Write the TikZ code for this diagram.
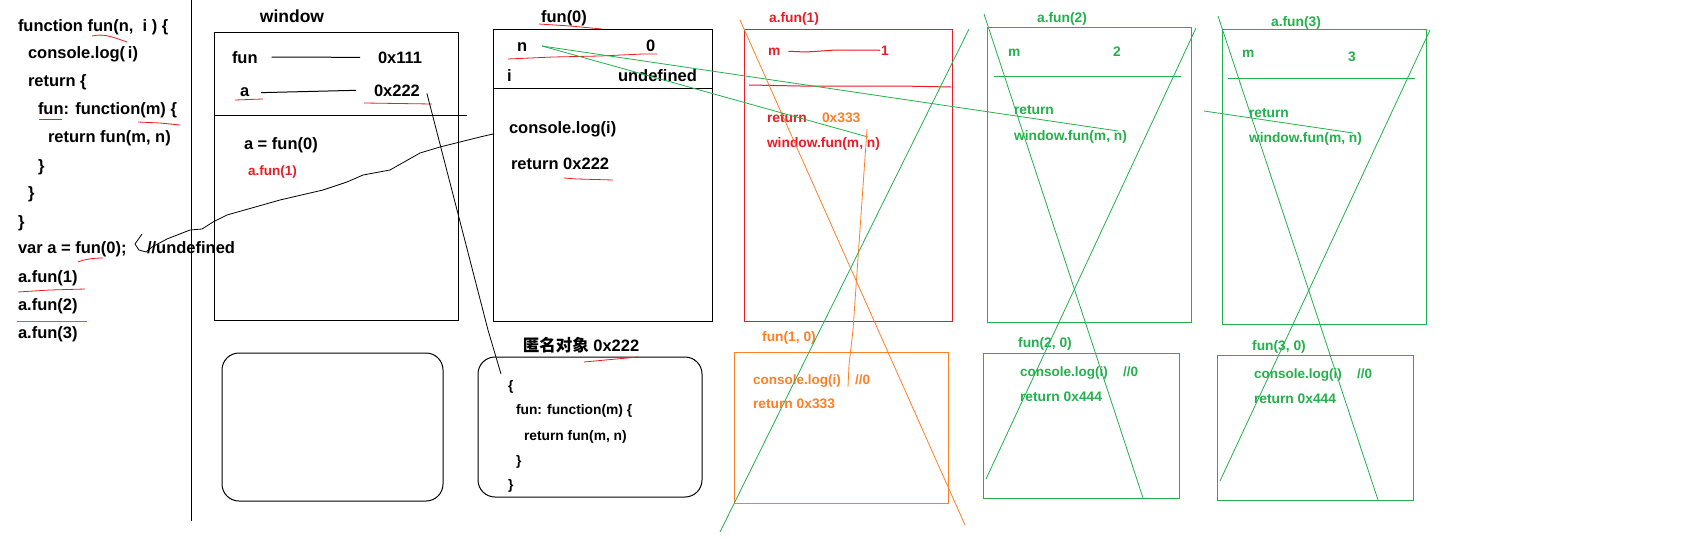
\documentclass[tikz,border=0pt]{standalone}
\usepackage{fontspec}
\setmainfont{Liberation Sans}
\newfontfamily\cjk{Noto Sans CJK SC}
\definecolor{pred}{HTML}{ED1C24}
\definecolor{pgreen}{HTML}{22B14C}
\definecolor{porange}{HTML}{FF7F27}
\tikzset{
  every node/.style={inner sep=0pt, outer sep=0pt},
  big/.style={font=\fontsize{16.5}{19}\selectfont\bfseries},
  huge/.style={font=\fontsize{17.5}{20}\selectfont\bfseries},
  mid/.style={font=\fontsize{13.8}{16}\selectfont\bfseries},
  sml/.style={font=\fontsize{13.5}{15}\selectfont\bfseries},
  tl/.style={anchor=base west},
  tc/.style={anchor=base},
  ln/.style={line width=1pt},
  thinln/.style={line width=0.8pt},
  frame/.style={draw, line width=1pt, anchor=north west},
}
\begin{document}
\begin{tikzpicture}[x=1pt,y=-1pt]
\useasboundingbox[fill=white] (0,0) rectangle (1686,538);

% ---------------- code column ----------------
\node[big,tl] (c1) at (18,31) {function fun(n,\ \ i ) \{};
\node[big,tl] (c2) at (28,58) {console.log(\,i)};
\node[big,tl] (c3) at (28,86) {return \{};
\node[big,tl] (c4) at (38,114) {fun: function(m) \{};
\node[big,tl] (c5) at (48,142) {return fun(m, n)};
\node[big,tl] (c6) at (38,171) {\}};
\node[big,tl] (c7) at (28,198) {\}};
\node[big,tl] (c8) at (18,227) {\}};
\node[big,tl] (c9) at (18,253) {var a = fun(0);};
\node[big,tl] (c9b) at (147,253) {//undefined};
\node[big,tl] (c10) at (18,282) {a.fun(1)};
\node[big,tl] (c11) at (18,310) {a.fun(2)};
\node[big,tl] (c12) at (18,338) {a.fun(3)};
\draw[pred,thinln] (92,36) .. controls (105,33) and (115,38) .. (127,42);
\draw[pred,thinln] (39,119) -- (62,119);
\draw[pred,thinln] (138,122) -- (160,123) -- (180,125);
\draw[pred,thinln] (78,262) .. controls (85,259) and (95,258) .. (103,258);
\draw[pred,thinln] (18,292) -- (50,290) -- (85,289);
\draw[pgreen,thinln] (17,321) -- (87,321);
% divider
\draw[ln] (191,0) -- (191,521);

% ---------------- window ----------------
\node[huge,tc] (wt) at (292,22) {window};
\node[frame, minimum width=244pt, minimum height=288pt] (win) at (214,32) {};
\node[big,tl] (wfun) at (232,63) {fun};
\node[big,tl] (w111) at (378,63) {0x111};
\node[big,tl] (wa) at (240,96) {a};
\node[big,tl] (w222) at (374,96) {0x222};
\draw[ln] ([xshift=14pt]wfun.east) -- ([xshift=-18pt]w111.west);
\draw[ln] ([xshift=12pt,yshift=-1pt]wa.east) -- ([xshift=-18pt]w222.west);
\draw[pred,thinln] (235,100) -- (263,99);
\draw[pred,thinln] (364,103) -- (432,104);
\draw[ln] (214,115) -- (467,115);
\node[big,tl] (wexp) at (244,149) {a = fun(0)};
\node[sml,tl,text=pred] (wcall) at (248,175) {a.fun(1)};

% ---------------- fun(0) ----------------
\node[big,tc] (f0t) at (564,22) {fun(0)};
\draw[pred,thinln] (539,24) -- (570,26) -- (602,29);
\node[frame, minimum width=219pt, minimum height=292pt] (f0) at (493,29) {};
\draw[ln] (493,88) -- (713,88);
\node[big,tl] (f0n) at (517,51) {n};
\node[big,tl] (f0nv) at (646,51) {0};
\node[big,tl] (f0i) at (507,81) {i};
\node[big,tl] (f0iv) at (618,81) {undefined};
\draw[pred,thinln] (508,59) -- (553,57) -- (600,56) -- (643,54) -- (657,54);
\node[big,tl] (f0log) at (509,133) {console.log(i)};
\node[big,tl] (f0ret) at (511,169) {return 0x222};
\draw[pred,thinln] (564,178) -- (577,179) -- (613,180);

% curve from console.log(i) back to var a = fun(0)
\coordinate (f0in) at (493,134);
\coordinate (hk) at (152,247);
\draw[line width=0.8pt] (f0in) -- (480,137) -- (440,147) -- (420,153) -- (390,170) -- (363,175)
  -- (347,182) -- (323,190) -- (280,200) -- (227,215) -- (213,222) -- (202,229)
  -- (190,230) -- (167,239) -- (hk) -- (146,252) -- (139,250) -- (135,244) -- (142,234);

% ---------------- bottom rounded boxes ----------------
\node[frame, rounded corners=17pt, minimum width=221pt, minimum height=148pt] (heap1) at (222,353) {};
\node[frame, rounded corners=17pt, minimum width=224pt, minimum height=140pt] (anon) at (478,357) {};
\node[tc, font=\fontsize{16.5}{19}\selectfont\bfseries] (anont) at (581,351) {{\cjk 匿名对象} 0x222};
\draw[pred,thinln] (584,362) -- (638,357);
\node[mid,tl] (o1) at (508,390) {\{};
\node[mid,tl] (o2) at (516,414) {fun: function(m) \{};
\node[mid,tl] (o3) at (524,440) {return fun(m, n)};
\node[mid,tl] (o4) at (516,465) {\}};
\node[mid,tl] (o5) at (508,489) {\}};
\coordinate (anonin) at (501,374);
\draw[line width=0.8pt] ([xshift=7pt,yshift=-3pt]w222.east) -- (488,330) -- (anonin);

% ---------------- a.fun(1) ----------------
\node[mid,tc,text=pred] (a1t) at (794,22) {a.fun(1)};
\node[frame, draw=pred, minimum width=208pt, minimum height=292pt] (a1) at (744,29) {};
\node[mid,tl,text=pred] (a1m) at (768,55) {m};
\node[mid,tl,text=pred] (a1v) at (881,55) {1};
\draw[pred,ln] ([xshift=8pt]a1m.east) -- (806,52) -- (836,50) -- ([xshift=-1pt]a1v.west);
\draw[pred,ln] (749,85) -- (800,86) -- (900,86) -- (951,87);
\node[mid,tl,text=pred] (a1r) at (767,122) {return};
\node[mid,tl,text=porange] (a1rv) at (822,122) {0x333};
\node[mid,tl,text=pred] (a1w) at (767,147) {window.fun(m, n)};

% ---------------- fun(1, 0) ----------------
\node[mid,tc,text=porange] (b1t) at (789,341) {fun(1, 0)};
\node[frame, draw=porange, minimum width=214pt, minimum height=151pt] (b1) at (734,352) {};
\node[sml,tl,text=porange] (b1l) at (753,384) {console.log(i)};
\node[sml,tl,text=porange] (b1c) at (855,384) {//0};
\node[mid,tl,text=porange] (b1r) at (753,408) {return 0x333};

% ---------------- a.fun(2) ----------------
\node[mid,tc,text=pgreen] (a2t) at (1062,23) {a.fun(2)};
\node[frame, draw=pgreen, minimum width=204pt, minimum height=295pt] (a2) at (987,27) {};
\node[mid,tl,text=pgreen] (a2m) at (1008,56) {m};
\node[mid,tl,text=pgreen] (a2v) at (1113,56) {2};
\draw[pgreen,ln] (994,76) -- (1181,76);
\node[mid,tl,text=pgreen] (a2r) at (1014,114) {return};
\node[mid,tl,text=pgreen] (a2w) at (1014,140) {window.fun(m, n)};

% ---------------- fun(2, 0) ----------------
\node[mid,tc,text=pgreen] (b2t) at (1045,347) {fun(2, 0)};
\node[frame, draw=pgreen, minimum width=196pt, minimum height=145pt] (b2) at (983,353) {};
\node[sml,tl,text=pgreen] (b2l) at (1020,376) {console.log(i)};
\node[sml,tl,text=pgreen] (b2c) at (1123,376) {//0};
\node[mid,tl,text=pgreen] (b2r) at (1020,401) {return 0x444};

% ---------------- a.fun(3) ----------------
\node[mid,tc,text=pgreen] (a3t) at (1296,27) {a.fun(3)};
\node[frame, draw=pgreen, minimum width=204pt, minimum height=295pt] (a3) at (1222,29) {};
\node[mid,tl,text=pgreen] (a3m) at (1242,57) {m};
\node[mid,tl,text=pgreen] (a3v) at (1348,61) {3};
\draw[pgreen,ln] (1228,78) -- (1415,78);
\node[mid,tl,text=pgreen] (a3r) at (1249,117) {return};
\node[mid,tl,text=pgreen] (a3w) at (1249,142) {window.fun(m, n)};

% ---------------- fun(3, 0) ----------------
\node[mid,tc,text=pgreen] (b3t) at (1279,350) {fun(3, 0)};
\node[frame, draw=pgreen, minimum width=196pt, minimum height=145pt] (b3) at (1217,355) {};
\node[sml,tl,text=pgreen] (b3l) at (1254,378) {console.log(i)};
\node[sml,tl,text=pgreen] (b3c) at (1357,378) {//0};
\node[mid,tl,text=pgreen] (b3r) at (1254,403) {return 0x444};

% ---------------- connectors: n -> window.fun(m, n) ----------------
\coordinate (nout) at (542,46);
\coordinate (a1hit) at (868,137);
\coordinate (a2hit) at (1118,131);
\coordinate (a3from) at (1204,111);
\coordinate (a3hit) at (1353,133);
\draw[pgreen,thinln] (nout) -- (a1hit);
\draw[pgreen,thinln] (nout) -- (a2hit);
\draw[pgreen,thinln] (a3from) -- (a3hit);

% orange: 0x333 return link
\coordinate (o3top) at (867,129);
\draw[porange,thinln] (o3top) -- (853,330) -- (849,365) -- (848,387);

% ---------------- crossing-out strokes ----------------
\draw[porange,thinln] (740,20) -- (965,525);
\draw[pgreen,thinln] (969,29) -- (720,532);
\draw[pgreen,thinln] (984,14) -- (1143,498);
\draw[pgreen,thinln] (1196,28) -- (986,479);
\draw[pgreen,thinln] (1218,16) -- (1378,500);
\draw[pgreen,thinln] (1430,30) -- (1220,481);
\end{tikzpicture}
\end{document}
